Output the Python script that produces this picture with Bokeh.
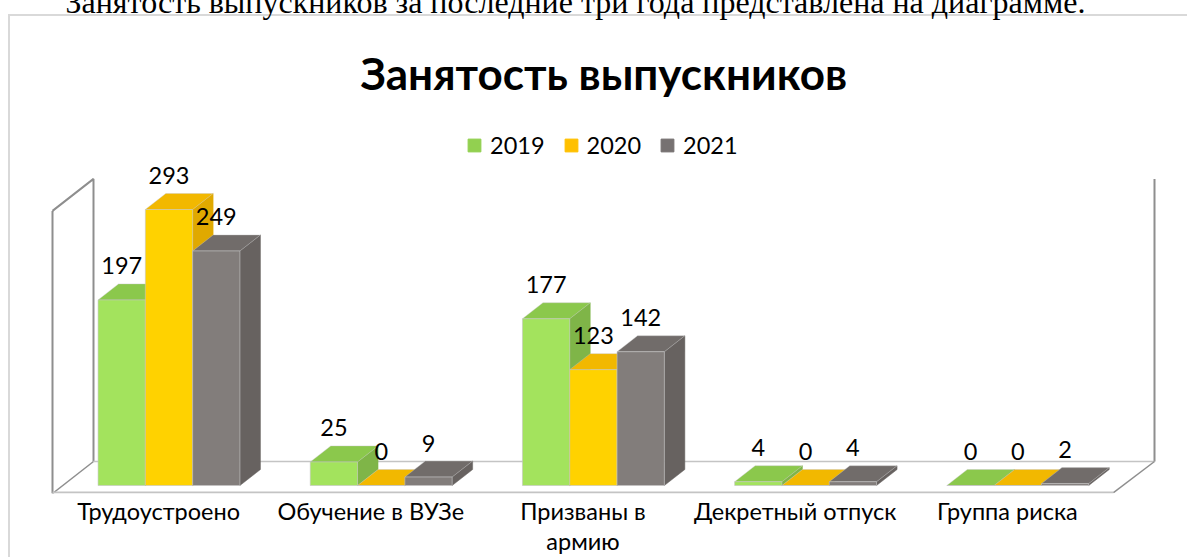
from bokeh.plotting import figure
from bokeh.embed import file_html
from bokeh.resources import INLINE
from bokeh.models import FixedTicker, Label, Legend, LegendItem, Range1d, Title

categories = ["Трудоустроено", "Обучение в ВУЗе", "Призваны в\nармию", "Декретный отпуск", "Группа риска"]
years = ["2019", "2020", "2021"]
v2019 = [197, 25, 177, 4, 0]
v2020 = [293, 0, 123, 0, 0]
v2021 = [249, 9, 142, 4, 2]
series = [v2019, v2020, v2021]
front = ["#A3E35D", "#FFD200", "#827D7B"]
topc = ["#8BC84C", "#F2B800", "#716C6A"]
sidec = ["#7FB548", "#E0A900", "#676260"]
legendc = ["#92D050", "#FFC000", "#767171"]
title_text = "Занятость выпускников"
sentence = "Занятость выпускников за последние три года представлена на диаграмме."

W, H = 1187, 557
LIFT = 50  # canvas starts above the window: the sentence on top is cut off in the reference
FRAME_T, FRAME_B = 105, 493
PX_U, PX_V = 212.2, 0.942
X0, Y0 = 52, 485

x_start, x_end = (0 - X0) / PX_U, (W - X0) / PX_U
y_start, y_end = (Y0 - FRAME_B) / PX_V, (Y0 - FRAME_T) / PX_V

border = "linear-gradient(#D9D9D9,#D9D9D9)"
p = figure(width=W, height=H + LIFT, output_backend="svg", toolbar_location=None,
           x_range=Range1d(x_start, x_end), y_range=Range1d(y_start, y_end),
           margin=(-LIFT, 0, 0, 0), min_border_left=0, min_border_right=0,
           min_border_top=FRAME_T + LIFT, min_border_bottom=H - FRAME_B,
           title=sentence, outline_line_color=None, y_axis_location=None,
           border_fill_alpha=0, background_fill_alpha=0,
           styles={"background": f"{border} 8px {15 + LIFT}px/2px 100% no-repeat, "
                                 f"{border} 8px {14 + LIFT}px/100% 2px no-repeat"})
p.title.align = "left"
p.title.offset = 65
p.title.text_font = "Liberation Serif"
p.title.text_font_style = "normal"
p.title.text_font_size = "32px"
p.title.text_color = "#000000"
p.title.standoff = 38
p.add_layout(Title(text=title_text, align="left", offset=360, text_font="Lato",
                   text_font_style="bold", text_font_size="44px", text_color="#000000",
                   standoff=13), "above")
p.grid.visible = False

ax = p.xaxis[0]
ax.ticker = FixedTicker(ticks=[i + 0.5 for i in range(5)])
ax.major_label_overrides = {i + 0.5: c for i, c in enumerate(categories)}
ax.axis_line_color = None
ax.major_tick_line_color = None
ax.minor_tick_line_color = None
ax.major_label_text_font = "Lato"
ax.major_label_text_font_size = "23.5px"
ax.major_label_text_color = "#000000"
ax.major_label_text_line_height = 1.08
ax.major_label_standoff = -3

# axis walls
DX, DY = 20.5 / PX_U, 16 / PX_V
BACK_DX, BACK_DY = 41 / PX_U, 32 / PX_V
bottom = y_start
top = bottom + 300
fx0, fx1 = 0.0, 5.0
wall = "#8E8E8E"
floor = "#C4C4C4"
p.line([fx0, fx0], [bottom, top], line_color=wall, line_width=2)
p.line([fx0, fx0 + BACK_DX, fx0 + BACK_DX], [top, top + BACK_DY, bottom + BACK_DY], line_color=wall, line_width=2)
p.line([fx0, fx0 + BACK_DX], [bottom, bottom + BACK_DY], line_color=wall, line_width=1.5)
p.line([fx1 + BACK_DX, fx1 + BACK_DX], [top + BACK_DY, bottom + BACK_DY], line_color=wall, line_width=2)
p.line([fx0 + BACK_DX, fx1 + BACK_DX], [bottom + BACK_DY, bottom + BACK_DY], line_color=floor, line_width=1.5)
p.line([fx0, fx1], [bottom + 1, bottom + 1], line_color=floor, line_width=2)
p.line([fx1, fx1 + BACK_DX], [bottom + 1, bottom + BACK_DY], line_color=wall, line_width=1.5)

# bars: side and top faces from the same values as the front
BW = 47.3 / PX_U
GROUP0 = 0.549
legend_items = []
edge = "#C4C4C4"
for s, vals in enumerate(series):
    lefts = [i + GROUP0 + (s - 1.5) * BW for i in range(5)]
    rights = [l + BW for l in lefts]
    p.patches([[r, r + DX, r + DX, r] for r in rights],
              [[0, DY, v + DY, v] for v in vals],
              fill_color=sidec[s], line_color=sidec[s], line_width=0.5)
    p.patches([[l, l + DX, r + DX, r] for l, r in zip(lefts, rights)],
              [[v, v + DY, v + DY, v] for v in vals],
              fill_color=topc[s], line_color=edge, line_width=0.4)
    p.vbar(x=[l + BW / 2 for l in lefts], top=vals, bottom=0, width=BW,
           fill_color=front[s], line_color=edge, line_width=0.6)
    key = p.vbar(x=[float("nan")], top=[0], bottom=0, width=BW, fill_color=legendc[s], line_color=legendc[s])
    legend_items.append(LegendItem(label=years[s], renderers=[key]))

# value labels
for s, vals in enumerate(series):
    for i, v in enumerate(vals):
        cx = i + GROUP0 + (s - 1) * BW
        p.add_layout(Label(x=cx, y=v + DY + 18 / PX_V, text=str(v), text_font="Lato",
                           text_font_size="23.5px", text_align="center", text_baseline="middle",
                           text_color="#000000"))

leg = Legend(items=legend_items, orientation="horizontal", location=(466, 334),
             background_fill_alpha=0, border_line_color=None, glyph_width=16, glyph_height=16,
             label_text_font="Lato", label_text_font_size="23.5px", label_text_color="#000000",
             spacing=18, margin=0, padding=0, label_standoff=8)
p.add_layout(leg, "center")

open("out.html", "w").write(file_html(p, INLINE))
